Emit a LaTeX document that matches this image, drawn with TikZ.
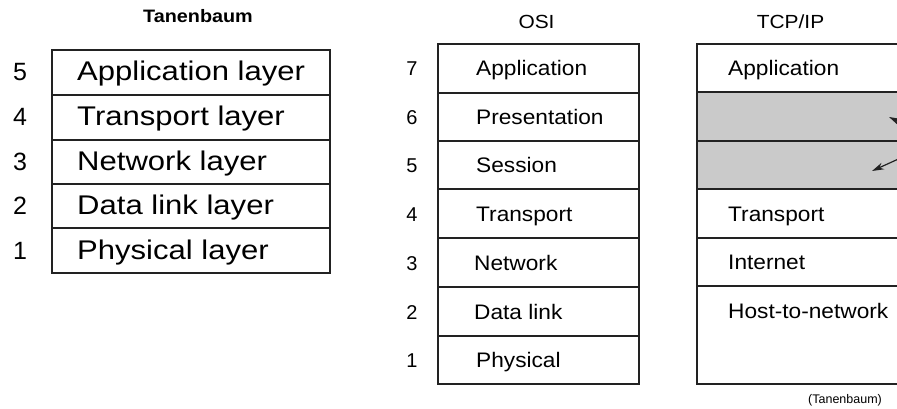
\documentclass[tikz,border=0pt]{standalone}
\usepackage{fontspec}
\setmainfont{Liberation Sans}
\newfontfamily\fwide[FakeStretch=1.15]{Liberation Sans}
\newfontfamily\fmid[FakeStretch=1.08]{Liberation Sans}
\newfontfamily\ftitle[FakeStretch=1.1]{Liberation Sans}
\usetikzlibrary{arrows.meta}
\definecolor{linecol}{HTML}{222222}
\definecolor{greyfill}{HTML}{CACACA}
\tikzset{
  rowline/.style={draw=linecol, line width=1.3pt},
  bigtxt/.style={anchor=base west, inner sep=0pt, font=\fwide\fontsize{27}{30}\selectfont},
  bignum/.style={anchor=base, inner sep=0pt, font=\fontsize{25}{28}\selectfont},
  midtxt/.style={anchor=base west, inner sep=0pt, font=\fmid\fontsize{21}{24}\selectfont},
  midnum/.style={anchor=base, inner sep=0pt, font=\fontsize{20}{23}\selectfont},
  ttl/.style={anchor=base, inner sep=0pt, font=\ftitle\fontsize{19}{22}\selectfont},
  pointer/.style={draw=linecol, line width=1.2pt, -{Stealth[length=12pt,width=7pt]}}
}
\begin{document}
\begin{tikzpicture}[x=1pt,y=-1pt]
\useasboundingbox (0,0) rectangle (897,409);
\clip (0,0) rectangle (897,409);
\fill[white] (0,0) rectangle (897,409);

% ---------- Tanenbaum (left) ----------
\node[anchor=base, inner sep=0pt, font=\ftitle\bfseries\fontsize{18}{21}\selectfont] (ttan) at (198,23) {Tanenbaum};
\draw[rowline] (52,50) rectangle (330,273);
\foreach \yy in {95,140,184,228} \draw[rowline] (52,\yy) -- (330,\yy);
\node[bignum] (l5) at (20,81) {5};
\node[bigtxt] (t5) at (77,81) {Application layer};
\node[bignum] (l4) at (20,126) {4};
\node[bigtxt] (t4) at (77,126) {Transport layer};
\node[bignum] (l3) at (20,170.5) {3};
\node[bigtxt] (t3) at (77,170.5) {Network layer};
\node[bignum] (l2) at (20,214.5) {2};
\node[bigtxt] (t2) at (77,214.5) {Data link layer};
\node[bignum] (l1) at (20,259) {1};
\node[bigtxt] (t1) at (77,259) {Physical layer};

% ---------- OSI ----------
\node[ttl] (tosi) at (536.5,29) {OSI};
\draw[rowline] (438,44) rectangle (639,384);
\foreach \yy in {93,141,189,238,287,336} \draw[rowline] (438,\yy) -- (639,\yy);
\node[midnum] (o7) at (412,76) {7};
\node[midtxt] (s7) at (476,76) {Application};
\node[midnum] (o6) at (412,124.5) {6};
\node[midtxt] (s6) at (476,124.5) {Presentation};
\node[midnum] (o5) at (412,172.5) {5};
\node[midtxt] (s5) at (476,172.5) {Session};
\node[midnum] (o4) at (412,221) {4};
\node[midtxt] (s4) at (476,221) {Transport};
\node[midnum] (o3) at (412,270) {3};
\node[midtxt] (s3) at (474,270) {Network};
\node[midnum] (o2) at (412,319) {2};
\node[midtxt] (s2) at (474,319) {Data link};
\node[midnum] (o1) at (412,367.5) {1};
\node[midtxt] (s1) at (476,367.5) {Physical};

% ---------- TCP/IP ----------
\node[ttl] (ttcp) at (790.5,29) {TCP/IP};
\fill[greyfill] (697,92) rectangle (930,189);
\draw[rowline] (697,44) rectangle (930,384);
\foreach \yy in {92,141,189,238,286} \draw[rowline] (697,\yy) -- (930,\yy);
\node[midtxt] (p4) at (728,75.5) {Application};
\node[midtxt] (p3) at (728,221) {Transport};
\node[midtxt] (p2) at (728,269.5) {Internet};
\node[midtxt] (p1) at (728,318) {Host-to-network};

\coordinate (a1from) at (918,131);
\coordinate (a1to) at (889,117);
\coordinate (a2from) at (905,156);
\coordinate (a2to) at (872,171);
\draw[pointer] (a1from) -- (a1to);
\draw[pointer] (a2from) -- (a2to);

\node[anchor=base, inner sep=0pt, font=\fontsize{12.5}{14}\selectfont] (cred) at (845,403) {(Tanenbaum)};
\end{tikzpicture}
\end{document}
